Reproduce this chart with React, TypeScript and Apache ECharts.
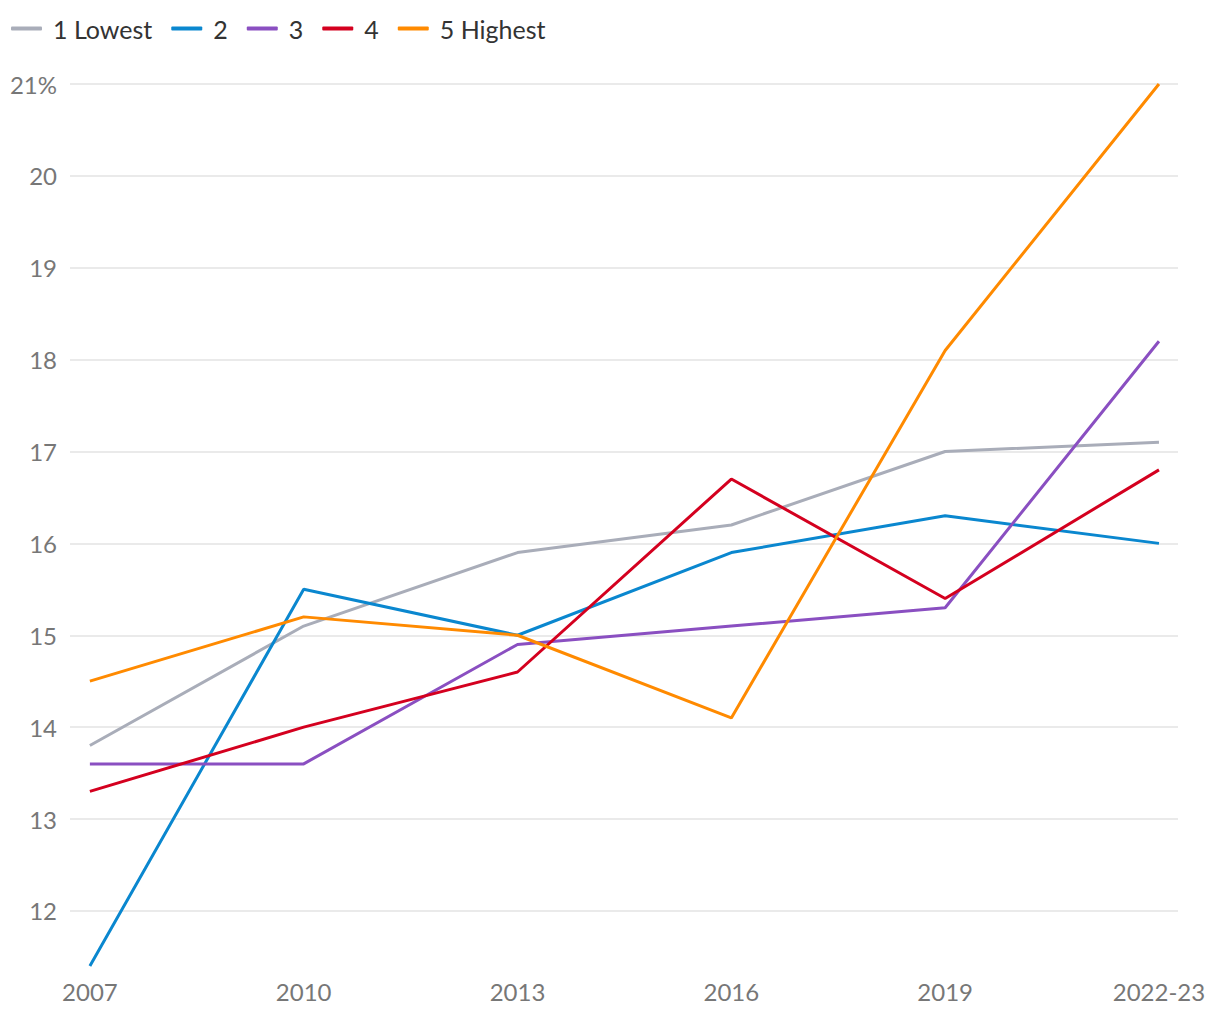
import React, { useEffect, useRef } from "react";
import * as echarts from "echarts";

const categories = ["2007", "2010", "2013", "2016", "2019", "2022-23"];
const seriesNames = ["1 Lowest", "2", "3", "4", "5 Highest"];
const lowest = [13.8, 15.1, 15.9, 16.2, 17.0, 17.1];
const q2 = [11.4, 15.5, 15.0, 15.9, 16.3, 16.0];
const q3 = [13.6, 13.6, 14.9, 15.1, 15.3, 18.2];
const q4 = [13.3, 14.0, 14.6, 16.7, 15.4, 16.8];
const highest = [14.5, 15.2, 15.0, 14.1, 18.1, 21.0];
const colors = ["#a9adb9", "#0a87cf", "#8a4fc1", "#d4001f", "#ff8a00"];

const FONT = "Lato, 'Noto Sans', sans-serif";

export default function App() {
  const ref = useRef<HTMLDivElement>(null);
  useEffect(() => {
    if (!ref.current) return;
    const chart = echarts.init(ref.current, null, { renderer: "svg" });
    const all = [lowest, q2, q3, q4, highest];
    chart.setOption({
      animation: false,
      color: colors,
      textStyle: { fontFamily: FONT },
      legend: {
        left: 6,
        top: 11,
        icon: "roundRect",
        itemWidth: 31,
        itemHeight: 4,
        itemGap: 19,
        textStyle: { fontSize: 25, color: "#333", fontFamily: FONT, padding: [0, 0, 0, 6] },
        data: seriesNames,
      },
      grid: { left: 70, right: 42, top: 84, bottom: 54, containLabel: false },
      xAxis: {
        type: "value",
        min: -0.093,
        max: 5.089,
        splitNumber: 5,
        minInterval: 1,
        maxInterval: 1,
        axisLine: { show: false },
        axisTick: { show: false },
        splitLine: { show: false },
        axisLabel: {
          showMinLabel: false,
          showMaxLabel: false,
          fontSize: 24,
          color: "#777",
          fontFamily: FONT,
          margin: 13,
          formatter: (v: number) => {
            const i = Math.round(v);
            return Math.abs(v - i) < 1e-6 && categories[i] ? categories[i] : "";
          },
        },
      },
      yAxis: {
        type: "value",
        min: 11.4,
        max: 21,
        splitNumber: 10,
        minInterval: 1,
        maxInterval: 1,
        axisLine: { show: false },
        axisTick: { show: false },
        splitLine: { show: true, showMinLine: false, lineStyle: { color: "#e3e3e3", width: 1.5 } },
        axisLabel: {
          showMinLabel: false,
          fontSize: 24,
          color: "#777",
          fontFamily: FONT,
          margin: 13,
          formatter: (v: number) => {
            if (Math.abs(v - Math.round(v)) > 1e-6) return "";
            return v === 21 ? "21%" : String(v);
          },
        },
      },
      series: all.map((vals, si) => ({
        name: seriesNames[si],
        type: "line",
        symbol: "none",
        lineStyle: { width: 3 },
        data: vals.map((v, i) => [i, v]),
      })),
    });
    return () => chart.dispose();
  }, []);
  return (
    <div
      ref={ref}
      style={{ position: "absolute", left: 0, top: 0, width: 1220, height: 1020, background: "#fff" }}
    />
  );
}
